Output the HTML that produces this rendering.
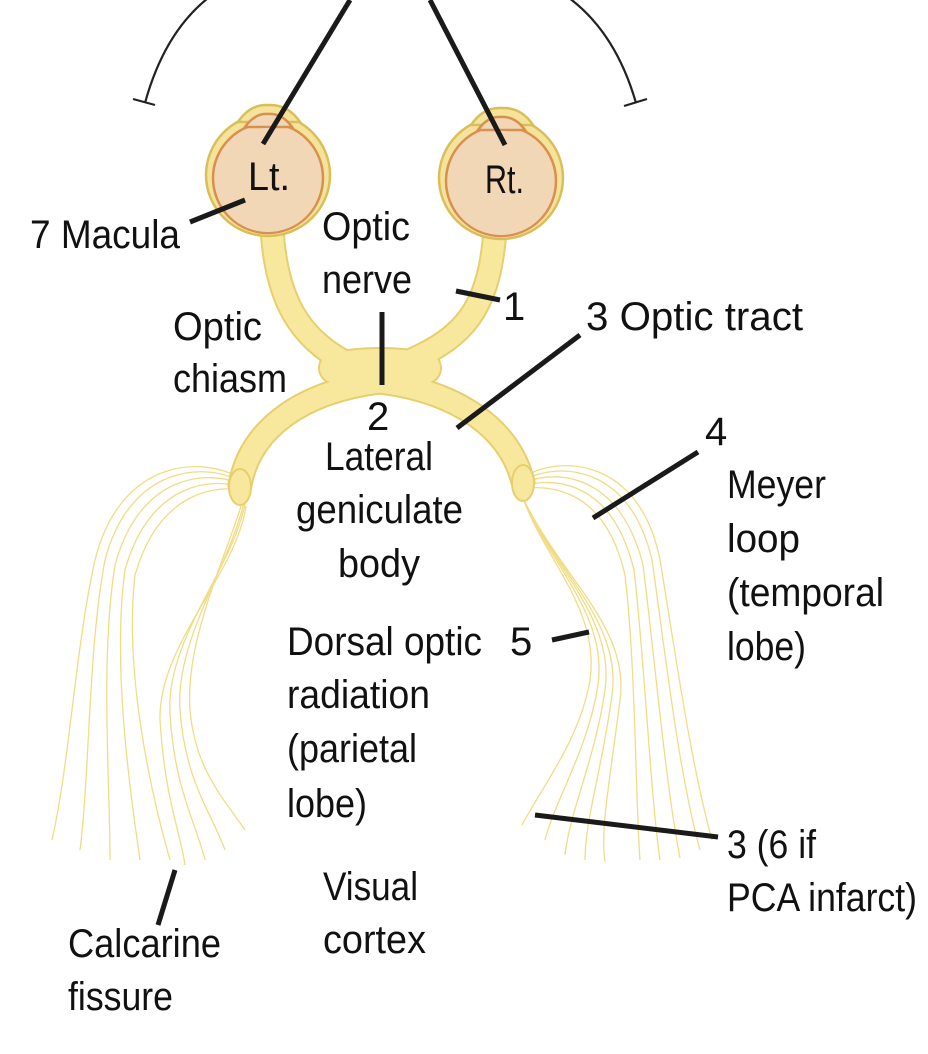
<!DOCTYPE html>
<html><head><meta charset="utf-8"><style>
html,body{margin:0;padding:0;background:#fff;}
svg{display:block;}
text{font-family:"Liberation Sans Narrow","Liberation Sans",sans-serif;font-size:40px;fill:#111;}
</style></head><body>
<svg width="928" height="1054" viewBox="0 0 928 1054" xmlns="http://www.w3.org/2000/svg">
<g fill="none" stroke="#222" stroke-width="2.2">
<path d="M145,103 Q165,30 212,-5"/>
<path d="M636,103 Q615,30 565,-5"/>
<path d="M133,99 L155,105"/>
<path d="M624,106 L647,99"/>
</g>
<g fill="none" stroke="#f1dc86" stroke-width="1.3">
<path d="M240,478 C200,455 120,460 95,560 C75,650 70,760 52,840"/>
<path d="M240,481 C205,462 130,465 105,560 C88,650 90,770 80,850"/>
<path d="M240,484 C210,470 140,472 115,565 C100,660 110,780 110,860"/>
<path d="M240,487 C215,478 150,480 125,570 C112,665 130,790 140,860"/>
<path d="M240,490 C220,486 160,488 135,575 C124,670 150,790 170,860"/>
<path d="M243,500 C225,560 185,640 190,710 C195,770 225,800 245,830"/>
<path d="M244,502 C230,565 175,640 180,710 C185,780 210,810 225,850"/>
<path d="M245,504 C232,570 165,640 170,715 C175,790 195,820 205,860"/>
<path d="M246,506 C236,575 158,645 160,720 C165,800 180,830 185,865"/>
<path d="M526,476 C560,455 640,458 660,560 C675,650 690,760 712,840"/>
<path d="M526,479 C560,462 630,465 652,560 C665,650 678,770 700,850"/>
<path d="M526,482 C555,470 620,472 643,565 C655,660 665,780 680,858"/>
<path d="M526,485 C555,478 612,480 634,570 C645,665 650,790 660,860"/>
<path d="M526,488 C550,486 605,488 625,575 C636,670 635,790 640,860"/>
<path d="M523,498 C545,560 600,610 590,680 C580,740 540,790 522,825"/>
<path d="M524,500 C550,565 608,615 598,685 C588,750 555,800 545,840"/>
<path d="M525,502 C555,570 615,620 605,690 C595,760 570,810 565,855"/>
<path d="M526,504 C560,575 622,625 612,695 C602,770 585,820 585,860"/>
<path d="M527,506 C565,580 630,630 620,700 C610,780 600,830 605,862"/>
</g>
<g fill="none" stroke-linecap="round">
<g stroke="#e8cf6e" stroke-width="25">
<path d="M272,228 C276,300 300,338 345,362 L380,375"/>
<path d="M495,230 C490,300 470,332 420,356 L380,375"/>
<path d="M380,382 C300,392 250,430 240,485"/>
<path d="M380,382 C460,392 510,430 523,482"/>
</g>
<path d="M335,368 Q380,360 425,368" stroke="#e8cf6e" stroke-width="34"/>
<g stroke="#f8e89e" stroke-width="21">
<path d="M272,228 C276,300 300,338 345,362 L380,375"/>
<path d="M495,230 C490,300 470,332 420,356 L380,375"/>
<path d="M380,382 C300,392 250,430 240,485"/>
<path d="M380,382 C460,392 510,430 523,482"/>
</g>
<path d="M335,368 Q380,360 425,368" stroke="#f8e89e" stroke-width="30"/>
</g>
<ellipse cx="240" cy="487" rx="11" ry="18" fill="#f8e89e" stroke="#e8cf6e" stroke-width="2"/>
<ellipse cx="523" cy="483" rx="11" ry="18" fill="#f8e89e" stroke="#e8cf6e" stroke-width="2"/>
<g>
<ellipse cx="268" cy="175" rx="62" ry="61" fill="#f6e39a" stroke="#d9bf5c" stroke-width="2.5"/>
<path d="M238,122 Q250,104 268,105 Q288,104 300,122 Z" fill="#f6e39a" stroke="#d9bf5c" stroke-width="2.5"/>
<ellipse cx="268" cy="178" rx="55" ry="55" fill="#f2d7b6" stroke="#d98f4f" stroke-width="2.5"/>
<path d="M245,127 Q255,113 268,114 Q282,113 292,127 Z" fill="#f2d7b6" stroke="#d98f4f" stroke-width="2.5"/>
<ellipse cx="268" cy="180" rx="53" ry="52" fill="#f2d7b6"/>
<ellipse cx="501" cy="178" rx="62" ry="61" fill="#f6e39a" stroke="#d9bf5c" stroke-width="2.5"/>
<path d="M471,125 Q483,107 501,108 Q521,107 533,125 Z" fill="#f6e39a" stroke="#d9bf5c" stroke-width="2.5"/>
<ellipse cx="501" cy="181" rx="55" ry="55" fill="#f2d7b6" stroke="#d98f4f" stroke-width="2.5"/>
<path d="M478,130 Q488,116 501,117 Q515,116 525,130 Z" fill="#f2d7b6" stroke="#d98f4f" stroke-width="2.5"/>
<ellipse cx="501" cy="183" rx="53" ry="52" fill="#f2d7b6"/>
</g>
<g stroke="#1a1a1a" stroke-width="5" fill="none">
<path d="M350,0 L263,144"/>
<path d="M430,0 L505,145"/>
<path d="M190,222 L245,200"/>
<path d="M456,291 L500,300"/>
<path d="M382,312 L382,385"/>
<path d="M580,335 L457,428"/>
<path d="M698,452 L593,518"/>
<path d="M552,640 L589,632"/>
<path d="M535,815 L718,837"/>
<path d="M175,870 L158,925"/>
</g>
<g>
<text x="248" y="190" textLength="42" lengthAdjust="spacingAndGlyphs">Lt.</text>
<text x="485" y="193" textLength="39" lengthAdjust="spacingAndGlyphs">Rt.</text>
<text x="30" y="248" textLength="150" lengthAdjust="spacingAndGlyphs">7  Macula</text>
<text x="322" y="240" textLength="88" lengthAdjust="spacingAndGlyphs">Optic</text>
<text x="322" y="293" textLength="90" lengthAdjust="spacingAndGlyphs">nerve</text>
<text x="503" y="320">1</text>
<text x="586" y="330" textLength="217" lengthAdjust="spacingAndGlyphs">3  Optic tract</text>
<text x="173" y="340" textLength="89" lengthAdjust="spacingAndGlyphs">Optic</text>
<text x="173" y="392" textLength="114" lengthAdjust="spacingAndGlyphs">chiasm</text>
<text x="367" y="430">2</text>
<text x="325" y="470" textLength="108" lengthAdjust="spacingAndGlyphs">Lateral</text>
<text x="296" y="523" textLength="167" lengthAdjust="spacingAndGlyphs">geniculate</text>
<text x="338" y="577" textLength="82" lengthAdjust="spacingAndGlyphs">body</text>
<text x="705" y="445">4</text>
<text x="727" y="498" textLength="99" lengthAdjust="spacingAndGlyphs">Meyer</text>
<text x="727" y="552" textLength="73" lengthAdjust="spacingAndGlyphs">loop</text>
<text x="727" y="606" textLength="157" lengthAdjust="spacingAndGlyphs">(temporal</text>
<text x="727" y="660" textLength="79" lengthAdjust="spacingAndGlyphs">lobe)</text>
<text x="287" y="655" textLength="195" lengthAdjust="spacingAndGlyphs">Dorsal optic</text>
<text x="510" y="655">5</text>
<text x="287" y="708" textLength="143" lengthAdjust="spacingAndGlyphs">radiation</text>
<text x="287" y="762" textLength="130" lengthAdjust="spacingAndGlyphs">(parietal</text>
<text x="287" y="817" textLength="80" lengthAdjust="spacingAndGlyphs">lobe)</text>
<text x="727" y="858" textLength="89" lengthAdjust="spacingAndGlyphs">3 (6 if</text>
<text x="727" y="911" textLength="190" lengthAdjust="spacingAndGlyphs">PCA infarct)</text>
<text x="323" y="900" textLength="95" lengthAdjust="spacingAndGlyphs">Visual</text>
<text x="323" y="953" textLength="103" lengthAdjust="spacingAndGlyphs">cortex</text>
<text x="68" y="957" textLength="153" lengthAdjust="spacingAndGlyphs">Calcarine</text>
<text x="68" y="1010" textLength="105" lengthAdjust="spacingAndGlyphs">fissure</text>
</g>
</svg>
</body></html>
